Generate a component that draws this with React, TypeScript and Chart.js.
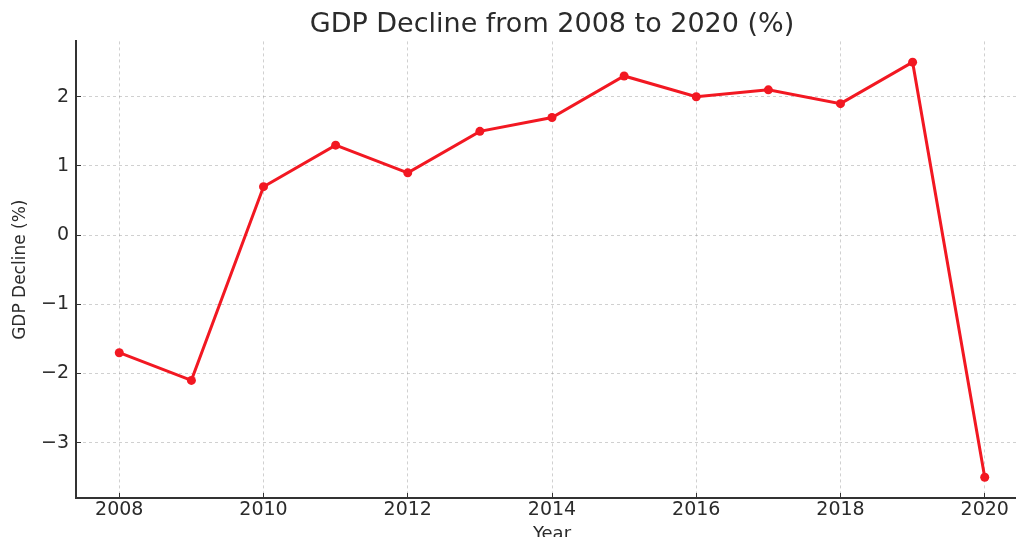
import React, { useEffect, useRef } from 'react';
import { Chart, registerables } from 'chart.js';

Chart.register(...registerables);

const years = [2008, 2009, 2010, 2011, 2012, 2013, 2014, 2015, 2016, 2017, 2018, 2019, 2020];
const gdpDecline = [-1.7, -2.1, 0.7, 1.3, 0.9, 1.5, 1.7, 2.3, 2.0, 2.1, 1.9, 2.5, -3.5];
const xTickValues = [2008, 2010, 2012, 2014, 2016, 2018, 2020];
const yTickValues = [-3, -2, -1, 0, 1, 2];
const chartTitle = 'GDP Decline from 2008 to 2020 (%)';
const xAxisTitle = 'Year';
const yAxisTitle = 'GDP Decline (%)';

const FONT = "'DejaVu Sans', sans-serif";
const TEXT = '#2b2b2b';
const AXIS = '#333333';
const GRID = 'rgba(150,150,150,0.45)';
const RED = 'rgb(242,24,34)';

export default function App() {
  const ref = useRef<HTMLCanvasElement | null>(null);

  useEffect(() => {
    if (!ref.current) return;
    const chart = new Chart(ref.current, {
      type: 'line',
      data: {
        datasets: [
          {
            label: yAxisTitle,
            data: years.map((y, i) => ({ x: y, y: gdpDecline[i] })),
            borderColor: RED,
            backgroundColor: RED,
            borderWidth: 3,
            pointRadius: 4.5,
            pointBorderWidth: 0,
            pointBackgroundColor: RED,
            tension: 0,
            clip: false,
            yAxisID: 'y',
          },
        ],
      },
      options: {
        animation: false,
        responsive: false,
        devicePixelRatio: 1,
        layout: { padding: 0 },
        plugins: {
          legend: { display: false },
          tooltip: { enabled: false },
          title: {
            display: true,
            text: chartTitle,
            color: TEXT,
            font: { family: FONT, size: 27, weight: 'normal' },
            padding: { top: 9, bottom: 0 },
          },
        },
        scales: {
          x: {
            type: 'linear',
            min: 2007.4,
            max: 2020.6,
            afterBuildTicks: (s: any) => {
              s.ticks = xTickValues.map((v) => ({ value: v }));
            },
            afterFit: (s: any) => {
              s.height = 39;
            },
            ticks: {
              color: TEXT,
              font: { family: FONT, size: 19 },
              padding: 6,
              maxRotation: 0,
              autoSkip: false,
              callback: (v: any) => String(v),
            },
            grid: {
              color: GRID,
              lineWidth: 1,
              tickLength: -5,
              tickColor: AXIS,
              tickWidth: 1,
              tickBorderDash: [],
            },
            border: { display: true, color: AXIS, width: 2, dash: [3, 3] },
            title: {
              display: true,
              text: xAxisTitle,
              color: TEXT,
              font: { family: FONT, size: 18, lineHeight: 1 },
              padding: { top: 0, bottom: -6 },
            },
          },
          y: {
            type: 'linear',
            position: 'left',
            min: -3.8,
            max: 2.8,
            afterBuildTicks: (s: any) => {
              s.ticks = yTickValues.map((v) => ({ value: v }));
            },
            afterFit: (s: any) => {
              s.width = 76;
            },
            ticks: {
              color: TEXT,
              font: { family: FONT, size: 19 },
              padding: 12,
              autoSkip: false,
              callback: (v: any) => (Number(v) < 0 ? '\u2212' + Math.abs(Number(v)) : String(v)),
            },
            grid: {
              color: GRID,
              lineWidth: 1,
              tickLength: -5,
              tickColor: AXIS,
              tickWidth: 1,
              tickBorderDash: [],
            },
            border: { display: true, color: AXIS, width: 2, dash: [3, 3] },
            title: {
              display: true,
              text: yAxisTitle,
              color: TEXT,
              font: { family: FONT, size: 17 },
              padding: { top: 10, bottom: 0 },
            },
          },
          yRight: {
            type: 'linear',
            position: 'right',
            min: -3.8,
            max: 2.8,
            afterFit: (s: any) => {
              s.width = 76;
            },
            ticks: { display: false },
            grid: { display: false, drawOnChartArea: false, drawTicks: false },
            border: { display: false },
            title: { display: false },
          },
        },
      },
    } as any);
    return () => chart.destroy();
  }, []);

  return (
    <div
      style={{
        position: 'fixed',
        left: 0,
        top: 0,
        width: 1016,
        height: 537,
        overflow: 'hidden',
        background: '#ffffff',
      }}
    >
      <canvas ref={ref} width={1104} height={537} style={{ display: 'block' }} />
    </div>
  );
}
